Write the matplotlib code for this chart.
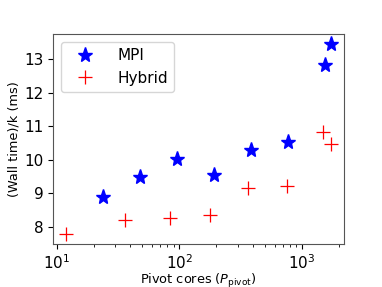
import numpy as np
import matplotlib
matplotlib.use('Agg')
import matplotlib.pyplot as plt

# cores and time per iteration
mpi_cores = [24, 48, 96, 192, 384, 768, 1536, 1728]
mpi_time = [8.87, 9.49, 10.01, 9.54, 10.28, 10.54, 12.81, 13.45]

hybrid_cores = [12, 36, 84, 180, 366, 756, 1488, 1728]
hybrid_time = [7.78, 8.19, 8.27, 8.35, 9.16, 9.22, 10.81, 10.47]

fig = plt.figure(figsize=(3.82, 2.87), dpi=100)
ax = fig.add_axes([53.3/382, 1 - 243.7/287, (344 - 53.3)/382, (243.7 - 34.3)/287])

ax.plot(mpi_cores, mpi_time, linestyle='none', marker='*', color='b', markersize=11, label='MPI')
ax.plot(hybrid_cores, hybrid_time, linestyle='none', marker='+', color='r', markersize=10,
        markeredgewidth=0.9, label='Hybrid')

ax.set_xscale('log')
ax.set_xlim(9.38, 2214)
ax.set_ylim(7.49, 13.74)
ax.set_yticks([8, 9, 10, 11, 12, 13])
ax.tick_params(labelsize=11)

ax.set_xlabel(r'Pivot cores ($P_{\mathrm{pivot}}$)', fontsize=9.3, labelpad=0)
ax.set_ylabel('(Wall time)/k (ms)', fontsize=9.3, labelpad=3)
for s in ax.spines.values():
    s.set_color('#555555')

ax.legend(loc='upper left', fontsize=11, borderaxespad=0.5, handlelength=2.4, handletextpad=0.9)

plt.savefig('out.png', dpi=100)
